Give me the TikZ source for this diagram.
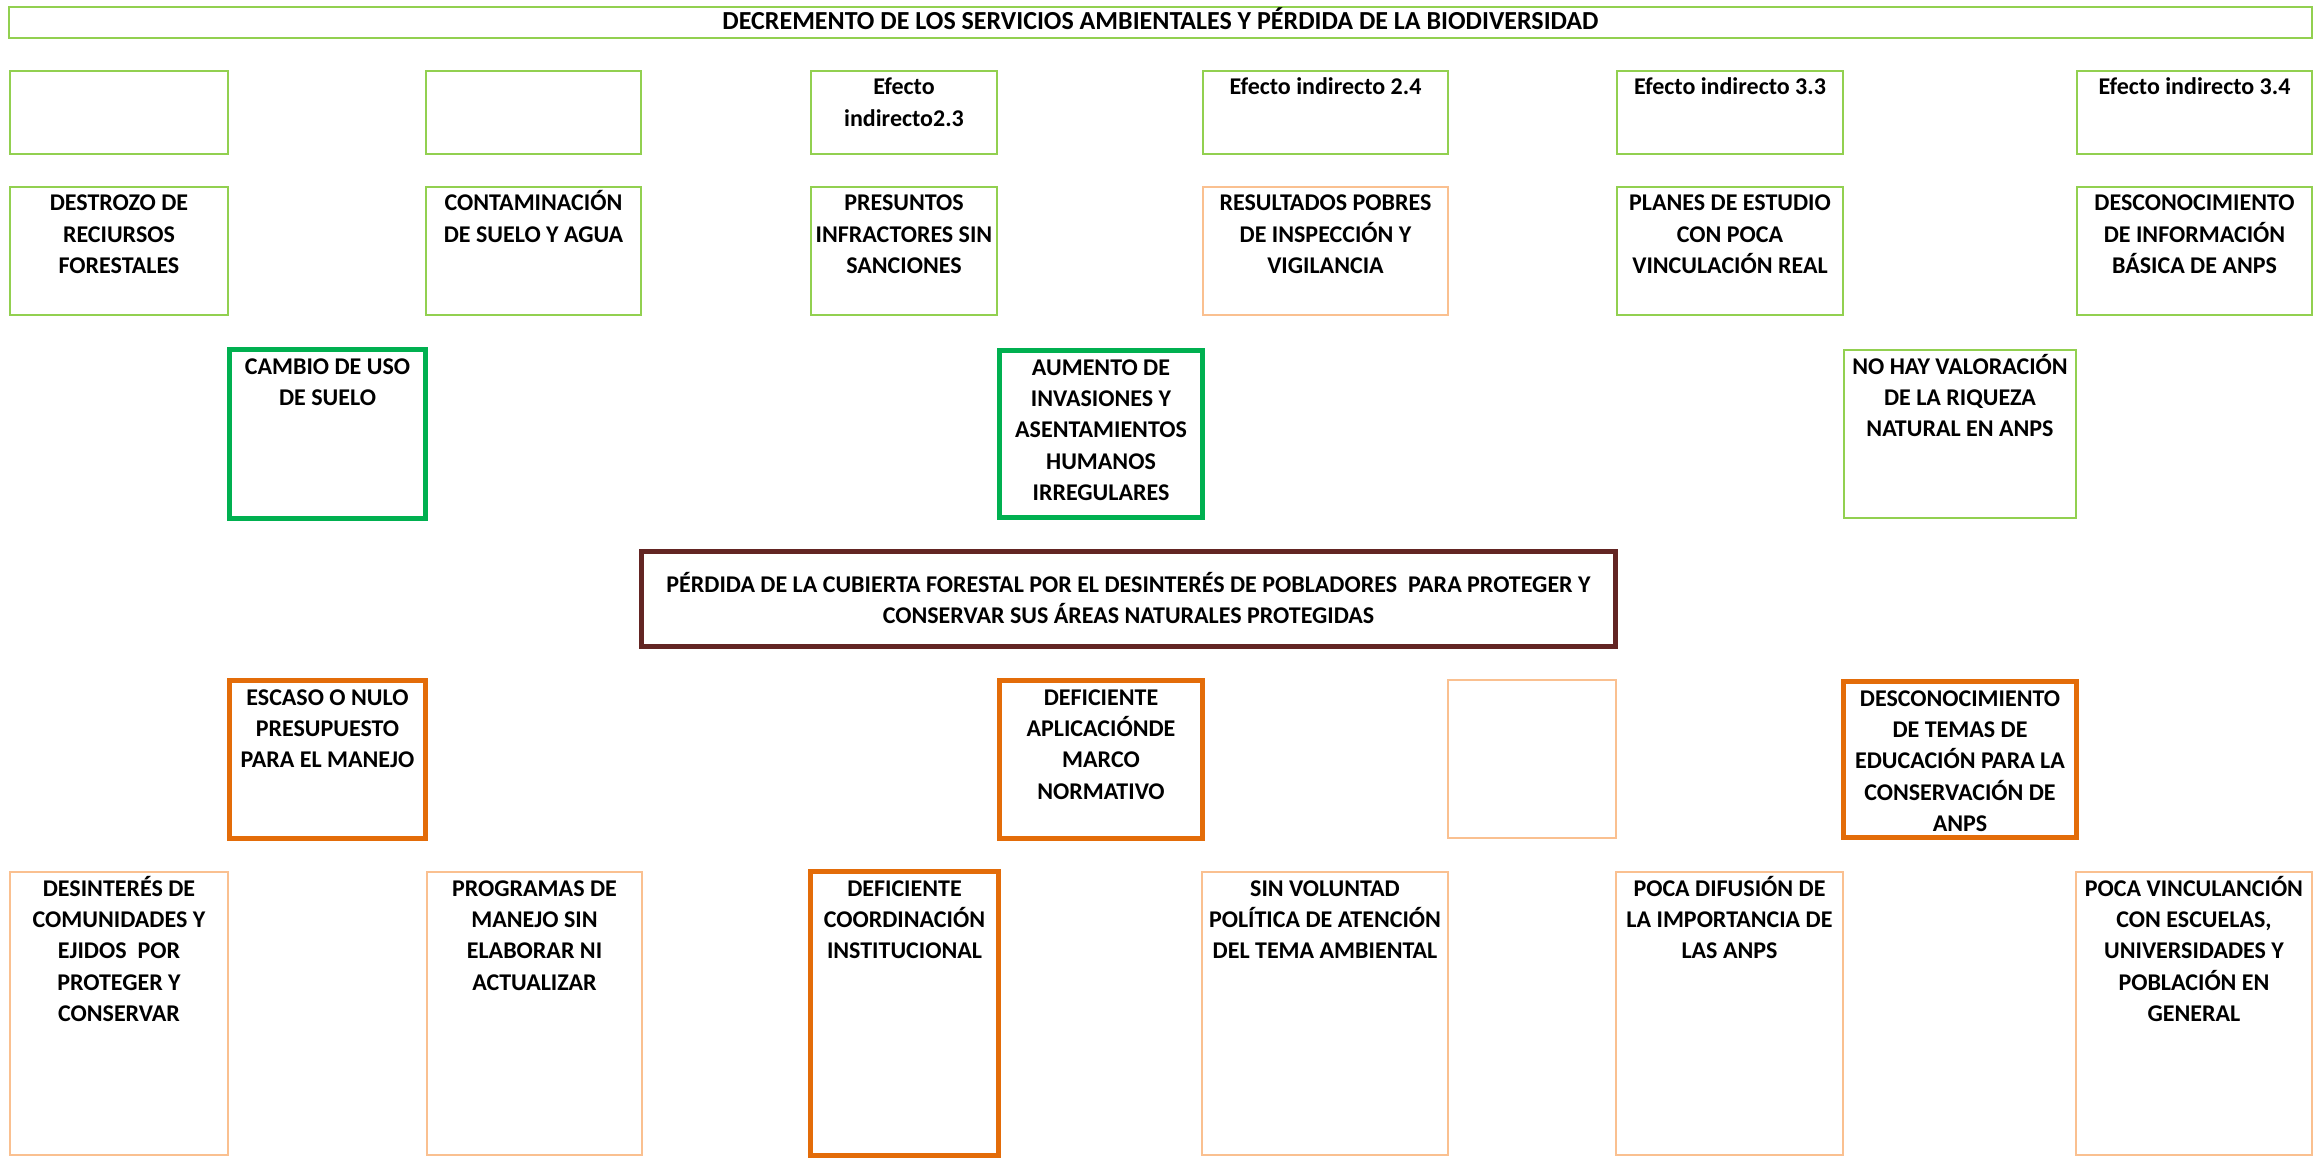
\documentclass[tikz,border=0pt]{standalone}
\usepackage{fontspec}
\setmainfont{Carlito}
\definecolor{lgreen}{HTML}{92D050}
\definecolor{dgreen}{HTML}{00B050}
\definecolor{dbrown}{HTML}{632523}
\definecolor{dorange}{HTML}{E36C09}
\definecolor{lorange}{HTML}{FAC090}
\tikzset{
  lg/.style={draw=lgreen, line width=1pt},
  dg/.style={draw=dgreen, line width=2.5pt},
  br/.style={draw=dbrown, line width=2.5pt},
  org/.style={draw=dorange, line width=2.5pt},
  lo/.style={draw=lorange, line width=1pt},
  txt/.style={anchor=base, inner sep=0pt, font=\bfseries\fontsize{12pt}{15.7pt}\selectfont},
  bigtxt/.style={txt, font=\bfseries\fontsize{13pt}{15.7pt}\selectfont}
}
% #1 name, #2 x1, #3 y1, #4 x2, #5 y2, #6 style, #7 text offset (px), #8 text
\newcommand\bx[9][txt]{%
  \pgfmathsetmacro\bw{(#5-#3)*0.5}%
  \pgfmathsetmacro\bh{(#6-#4)*0.5}%
  \node[#7, rectangle, inner sep=0pt, minimum width={\bw pt-\pgflinewidth}, minimum height={\bh pt-\pgflinewidth}, anchor=north west] (#2) at (#3,#4) {};%
  \node[#1] (#2t) at ([yshift=-#8*0.5pt]#2.north) {\parbox[t]{1200pt}{\centering #9}};%
}
\begin{document}
\begin{tikzpicture}[x=0.5pt,y=-0.5pt]
\useasboundingbox (0,0) rectangle (2320,1161);
% title
\bx[bigtxt]{title}{8}{6}{2313}{39}{lg}{24}{DECREMENTO DE LOS SERVICIOS AMBIENTALES Y PÉRDIDA DE LA BIODIVERSIDAD}
% row 1
\bx{e1}{9}{70}{229}{155}{lg}{25}{}
\bx{e2}{425}{70}{642}{155}{lg}{25}{}
\bx{e3}{810}{70}{998}{155}{lg}{25}{Efecto\\indirecto2.3}
\bx{e4}{1202}{70}{1449}{155}{lg}{25}{Efecto indirecto 2.4}
\bx{e5}{1616}{70}{1844}{155}{lg}{25}{Efecto indirecto 3.3}
\bx{e6}{2076}{70}{2313}{155}{lg}{25}{Efecto indirecto 3.4}
% row 2
\bx{d1}{9}{186}{229}{316}{lg}{25}{DESTROZO DE\\RECIURSOS\\FORESTALES}
\bx{d2}{425}{186}{642}{316}{lg}{25}{CONTAMINACIÓN\\DE SUELO Y AGUA}
\bx{d3}{810}{186}{998}{316}{lg}{25}{PRESUNTOS\\INFRACTORES SIN\\SANCIONES}
\bx{d4}{1202}{186}{1449}{316}{lo}{25}{RESULTADOS POBRES\\DE INSPECCIÓN Y\\VIGILANCIA}
\bx{d5}{1616}{186}{1844}{316}{lg}{25}{PLANES DE ESTUDIO\\CON POCA\\VINCULACIÓN REAL}
\bx{d6}{2076}{186}{2313}{316}{lg}{25}{DESCONOCIMIENTO\\DE INFORMACIÓN\\BÁSICA DE ANPS}
% row 3
\bx{c1}{227}{347}{428}{521}{dg}{27}{CAMBIO DE USO\\DE SUELO}
\bx{c2}{997}{348}{1205}{520}{dg}{27}{AUMENTO DE\\INVASIONES Y\\ASENTAMIENTOS\\HUMANOS\\IRREGULARES}
\bx{c3}{1843}{349}{2077}{519}{lg}{25}{NO HAY VALORACIÓN\\DE LA RIQUEZA\\NATURAL EN ANPS}
% central problem
\bx{prob}{639}{549}{1618}{649}{br}{43}{PÉRDIDA DE LA CUBIERTA FORESTAL POR EL DESINTERÉS DE POBLADORES\ \ PARA PROTEGER Y\\CONSERVAR SUS ÁREAS NATURALES PROTEGIDAS}
% row 4
\bx{k1}{227}{678}{428}{841}{org}{27}{ESCASO O NULO\\PRESUPUESTO\\PARA EL MANEJO}
\bx{k2}{997}{678}{1205}{841}{org}{27}{DEFICIENTE\\APLICACIÓNDE\\MARCO\\NORMATIVO}
\bx{k3}{1447}{679}{1617}{839}{lo}{25}{}
\bx{k4}{1841}{679}{2079}{840}{org}{27}{DESCONOCIMIENTO\\DE TEMAS DE\\EDUCACIÓN PARA LA\\CONSERVACIÓN DE\\ANPS}
% row 5
\bx{b1}{9}{871}{229}{1156}{lo}{25}{DESINTERÉS DE\\COMUNIDADES Y\\EJIDOS\ \ POR\\PROTEGER Y\\CONSERVAR}
\bx{b2}{426}{871}{643}{1156}{lo}{25}{PROGRAMAS DE\\MANEJO SIN\\ELABORAR NI\\ACTUALIZAR}
\bx{b3}{808}{869}{1001}{1158}{org}{27}{DEFICIENTE\\COORDINACIÓN\\INSTITUCIONAL}
\bx{b4}{1201}{871}{1449}{1156}{lo}{25}{SIN VOLUNTAD\\POLÍTICA DE ATENCIÓN\\DEL TEMA AMBIENTAL}
\bx{b5}{1615}{871}{1844}{1156}{lo}{25}{POCA DIFUSIÓN DE\\LA IMPORTANCIA DE\\LAS ANPS}
\bx{b6}{2075}{871}{2313}{1156}{lo}{25}{POCA VINCULANCIÓN\\CON ESCUELAS,\\UNIVERSIDADES Y\\POBLACIÓN EN\\GENERAL}
\end{tikzpicture}
\end{document}
